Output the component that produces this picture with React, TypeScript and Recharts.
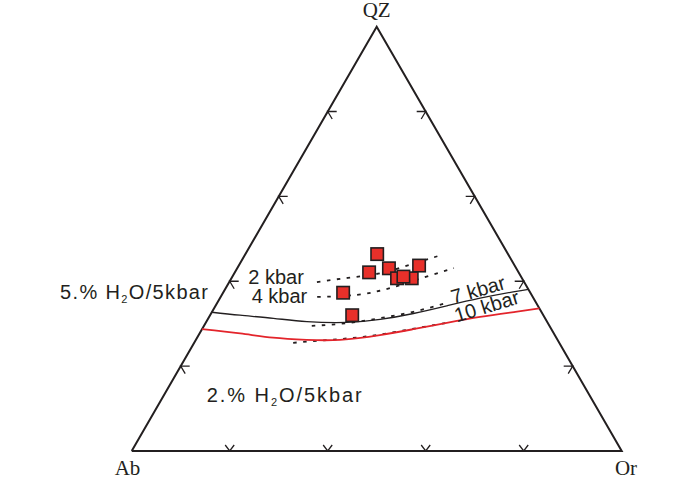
import React from 'react';
import { ScatterChart, Scatter, XAxis, YAxis } from 'recharts';

// compositions in percent: [QZ, Ab, Or]
const AB = [0, 100, 0];
const OR = [0, 0, 100];
const QZ = [100, 0, 0];
const TICK_VALUES = [20, 40, 60, 80];

// drawing order matters a bit, the overlapping ones go last
const SAMPLES = [
  [46.4, 26.7, 26.9],
  [42.1, 30.5, 27.4],
  [43.1, 26.0, 31.0],
  [43.7, 19.5, 36.8],
  [37.3, 38.2, 24.5],
  [32.0, 39.0, 29.0],
  [40.7, 25.5, 33.8],
  [40.7, 22.5, 36.8],
  [41.1, 24.0, 34.9],
];

// 5% H2O / 5 kbar boundary
const H2O_5 = [
  [32.7, 67.3, 0],
  [32.0, 61.9, 6.1],
  [31.3, 55.5, 13.3],
  [30.5, 49.0, 20.5],
  [30.3, 41.0, 28.7],
  [31.0, 33.8, 35.2],
  [32.4, 26.3, 41.3],
  [34.2, 18.6, 47.2],
  [36.0, 10.9, 53.1],
  [37.5, 3.4, 59.1],
  [38.1, 0, 61.9],
];

// 2% H2O / 5 kbar boundary
const H2O_2 = [
  [28.7, 71.3, 0],
  [27.7, 64.0, 8.3],
  [26.7, 57.8, 15.5],
  [26.2, 51.2, 22.6],
  [26.2, 44.4, 29.4],
  [27.3, 35.7, 37.0],
  [28.7, 28.2, 43.1],
  [30.2, 20.6, 49.2],
  [31.6, 13.1, 55.3],
  [32.8, 5.3, 61.9],
  [33.6, 0, 66.4],
];

const KBAR_2 = [
  [39.8, 42.3, 17.9],
  [40.8, 35.5, 23.7],
  [41.8, 28.8, 29.4],
  [43.9, 21.2, 34.9],
  [46.1, 14.0, 39.9],
];

const KBAR_4 = [
  [36.3, 44.0, 19.7],
  [36.8, 35.6, 27.6],
  [38.4, 28.1, 33.5],
  [40.8, 20.2, 39.0],
  [43.1, 12.7, 44.2],
];

const KBAR_7 = [
  [29.5, 48.5, 22.0],
  [30.1, 41.2, 28.7],
  [31.3, 33.7, 35.0],
  [32.8, 26.1, 41.1],
  [34.9, 18.3, 46.8],
];

const KBAR_10 = [
  [25.5, 54.3, 20.2],
  [26.2, 46.4, 27.4],
  [26.9, 39.3, 33.8],
  [28.1, 31.9, 40.0],
  [29.5, 24.4, 46.1],
  [30.2, 20.6, 49.2],
];

const W = 700;
const H = 477;
const UNIT = 490; // px for one side of the triangle
const ORIGIN_X = 131.7;
const ORIGIN_Y = 451;

const INK = '#231f20';
const RED = '#e3242b';
const SANS = '"Liberation Sans", Arial, sans-serif';
const SERIF = '"Liberation Serif", "Times New Roman", serif';

const toXY = ([qz, ab, or]: number[]) => {
  const s = qz + ab + or;
  return { x: (or + qz / 2) / s, y: ((qz / s) * Math.sqrt(3)) / 2 };
};

// text annotations, placed in triangle units (base = 1)
const ANNOTATIONS = [
  { x: 0.5, y: 0.8857, text: 'QZ', serif: true, anchor: 'middle' },
  { x: -0.0086, y: -0.049, text: 'Ab', serif: true, anchor: 'middle' },
  { x: 1.0088, y: -0.049, text: 'Or', serif: true, anchor: 'middle' },
  { x: -0.1463, y: 0.3102, text: '5.% H', sub: '2', rest: 'O/5kbar', len: 148 },
  { x: 0.1531, y: 0.1, text: '2.% H', sub: '2', rest: 'O/5kbar', len: 155 },
  { x: 0.238, y: 0.3408, text: '2 kbar' },
  { x: 0.2449, y: 0.3014, text: '4 kbar' },
  { x: 0.6563, y: 0.3, text: '7 kbar', rot: -16 },
  { x: 0.6633, y: 0.2622, text: '10 kbar', rot: -17 },
];

const none = () => <g />;

const baseTick = (p: any) => (
  <path d={`M${p.cx - 4.5},${p.cy - 6}L${p.cx},${p.cy}L${p.cx + 4.5},${p.cy - 6}`} fill="none" stroke={INK} strokeWidth={1.3} />
);
const leftTick = (p: any) => (
  <path d={`M${p.cx + 9},${p.cy}L${p.cx},${p.cy}L${p.cx + 4.5},${p.cy + 7.5}`} fill="none" stroke={INK} strokeWidth={1.3} />
);
const rightTick = (p: any) => (
  <path d={`M${p.cx - 9},${p.cy}L${p.cx},${p.cy}L${p.cx - 4.5},${p.cy + 7.5}`} fill="none" stroke={INK} strokeWidth={1.3} />
);

const square = (p: any) => (
  <rect x={p.cx - 6.2} y={p.cy - 6.2} width={12.4} height={12.4} fill="#e8302a" stroke={INK} strokeWidth={1.6} />
);

const label = (p: any) => {
  const d = p.payload ?? p;
  return (
    <text
      x={p.cx}
      y={p.cy}
      fill={INK}
      fontFamily={d.serif ? SERIF : SANS}
      fontSize={d.serif ? 21 : 20}
      textAnchor={d.anchor || 'start'}
      transform={d.rot ? `rotate(${d.rot} ${p.cx} ${p.cy})` : undefined}
      textLength={d.len}
      lengthAdjust={d.len ? 'spacing' : undefined}
    >
      {d.text}
      {d.sub && (
        <tspan fontSize={11} dy={4}>
          {d.sub}
        </tspan>
      )}
      {d.rest && <tspan dy={-4}>{d.rest}</tspan>}
    </text>
  );
};

const dashed = { stroke: INK, strokeWidth: 1.8, strokeDasharray: '3.5 6.5' };

export default function App() {
  const frame = [AB, OR, QZ, AB].map(toXY);
  const base = TICK_VALUES.map((v) => toXY([0, 100 - v, v]));
  const left = TICK_VALUES.map((v) => toXY([v, 100 - v, 0]));
  const right = TICK_VALUES.map((v) => toXY([v, 0, 100 - v]));

  return (
    <div style={{ position: 'absolute', left: 0, top: 0, background: '#fff' }}>
      <ScatterChart width={W} height={H} margin={{ top: 0, right: 0, bottom: 0, left: 0 }}>
        <XAxis type="number" dataKey="x" hide domain={[-ORIGIN_X / UNIT, (W - ORIGIN_X) / UNIT]} />
        <YAxis type="number" dataKey="y" hide domain={[(ORIGIN_Y - H) / UNIT, ORIGIN_Y / UNIT]} />

        <Scatter data={frame} shape={none} line={{ stroke: INK, strokeWidth: 2 }} isAnimationActive={false} />
        <Scatter data={base} shape={baseTick} isAnimationActive={false} />
        <Scatter data={left} shape={leftTick} isAnimationActive={false} />
        <Scatter data={right} shape={rightTick} isAnimationActive={false} />

        <Scatter data={KBAR_2.map(toXY)} shape={none} line={dashed} lineJointType="natural" isAnimationActive={false} />
        <Scatter data={KBAR_4.map(toXY)} shape={none} line={dashed} lineJointType="natural" isAnimationActive={false} />
        <Scatter data={KBAR_7.map(toXY)} shape={none} line={dashed} lineJointType="natural" isAnimationActive={false} />
        <Scatter data={KBAR_10.map(toXY)} shape={none} line={dashed} lineJointType="natural" isAnimationActive={false} />

        <Scatter data={H2O_5.map(toXY)} shape={none} line={{ stroke: INK, strokeWidth: 1.3 }} lineJointType="natural" isAnimationActive={false} />
        <Scatter data={H2O_2.map(toXY)} shape={none} line={{ stroke: RED, strokeWidth: 1.8 }} lineJointType="natural" isAnimationActive={false} />

        <Scatter data={SAMPLES.map(toXY)} shape={square} isAnimationActive={false} />
        <Scatter data={ANNOTATIONS} shape={label} isAnimationActive={false} />
      </ScatterChart>
    </div>
  );
}
